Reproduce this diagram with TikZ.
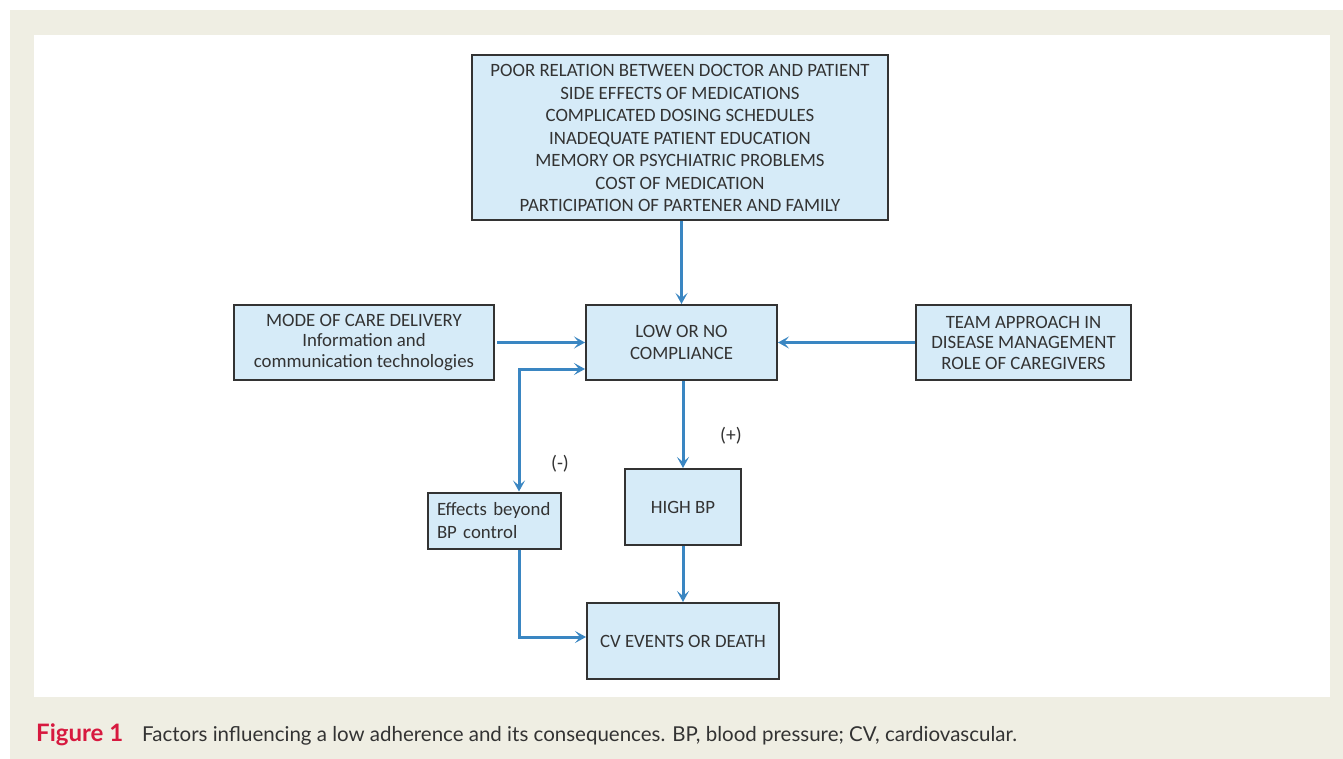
\documentclass[tikz,border=0pt]{standalone}
\usepackage{fontspec}
\setmainfont{Carlito}
\newfontfamily\capfont{Lato}
\usetikzlibrary{arrows.meta}
\definecolor{beige}{HTML}{EFEEE3}
\definecolor{boxfill}{HTML}{D6EBF8}
\definecolor{boxline}{HTML}{333333}
\definecolor{arrowblue}{HTML}{3A86C2}
\definecolor{figred}{HTML}{D7193F}
\definecolor{captext}{HTML}{333333}
\tikzset{
  box/.style={draw=boxline, line width=2pt, fill=boxfill, inner sep=0pt, align=center,
    font=\fontsize{18.8}{22.5}\selectfont, text=boxline},
  tight/.style={font=\fontsize{18.8}{20.5}\selectfont},
  conn/.style={draw=arrowblue, line width=3pt, -{Stealth[length=11pt,width=12pt,inset=5pt]}},
  dconn/.style={draw=arrowblue, line width=3pt, {Stealth[length=11pt,width=12pt,inset=5pt]}-{Stealth[length=11pt,width=12pt,inset=5pt]}},
  lbl/.style={font=\fontsize{19.5}{22}\selectfont, text=boxline}
}
\begin{document}
\begin{tikzpicture}[x=1pt,y=-1pt]
\useasboundingbox (0,0) rectangle (1343,759);
\fill[white] (0,0) rectangle (1343,759);
\fill[beige] (10,10) rectangle (1343,759);
\fill[white] (34,35) rectangle (1330,697);

\node[box, minimum width=416pt, minimum height=165pt] (top) at (680,138)
  {POOR RELATION BETWEEN DOCTOR AND PATIENT\\SIDE EFFECTS OF MEDICATIONS\\COMPLICATED DOSING SCHEDULES\\INADEQUATE PATIENT EDUCATION\\MEMORY OR PSYCHIATRIC PROBLEMS\\COST OF MEDICATION\\PARTICIPATION OF PARTENER AND FAMILY};
\node[box, minimum width=191pt, minimum height=75pt] (low) at (681.5,342.5)
  {LOW OR NO\\COMPLIANCE};
\node[box, tight, minimum width=260pt, minimum height=75pt] (left) at (364,342.5)
  {MODE OF CARE DELIVERY\\Information and\\communication technologies};
\node[box, tight, minimum width=215pt, minimum height=75pt] (right) at (1023.5,342.5)
  {TEAM APPROACH IN\\DISEASE MANAGEMENT\\ROLE OF CAREGIVERS};
\node[box, minimum width=116pt, minimum height=76pt] (bp) at (683,507) {HIGH BP};
\node[box, minimum width=133pt, minimum height=56pt, align=left, text width=115pt] (eff) at (494.5,520.5)
  {Effects beyond\\BP control};
\node[box, minimum width=192pt, minimum height=76pt] (cv) at (683,641) {CV EVENTS OR DEATH};

\coordinate (dtop) at (519,369);
\coordinate (ebot) at (519,637);

\draw[conn] (top.south -| low.north) -- (low.north);
\draw[conn] (left.east) ++(2pt,0) -- (low.west);
\draw[conn] (right.west) -- (low.east);
\draw[conn] (low.south -| bp.north) -- (bp.north);
\draw[conn] (bp.south) -- (cv.north);
\draw[dconn] (low.west |- dtop) -- (dtop) -- (eff.north -| dtop);
\draw[conn] (eff.south -| ebot) -- (ebot) -- (cv.west |- ebot);

\node[lbl] (plus) at (731,436) {(+)};
\node[lbl] (minus) at (560,464) {(-)};

\node[anchor=base west, inner sep=0pt, font=\capfont\bfseries\fontsize{24}{26}\selectfont, text=figred] (fig) at (36,741) {Figure 1};
\node[anchor=base west, inner sep=0pt, font=\capfont\fontsize{20.5}{24}\selectfont, text=captext] (cap) at (142,741)
  {Factors influencing a low adherence and its consequences. BP, blood pressure; CV, cardiovascular.};
\end{tikzpicture}
\end{document}
